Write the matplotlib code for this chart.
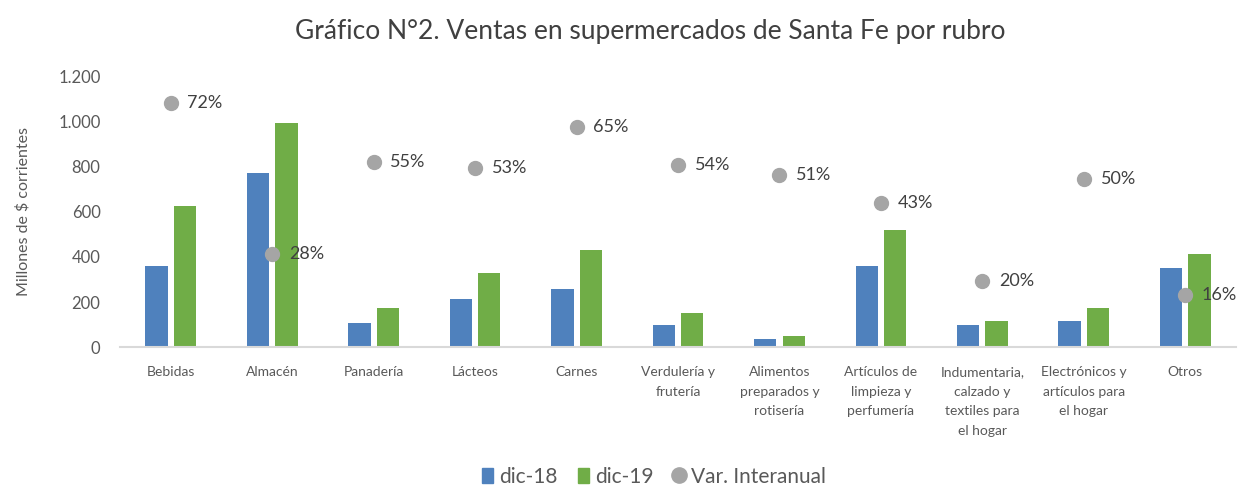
import matplotlib.pyplot as plt
import matplotlib.ticker as mticker
from matplotlib.lines import Line2D
from matplotlib.patches import Patch
import numpy as np

plt.rcParams['font.family'] = ['Lato', 'DejaVu Sans']

rubros = ['Bebidas', 'Almacén', 'Panadería', 'Lácteos', 'Carnes',
          'Verdulería y\nfrutería', 'Alimentos\npreparados y\nrotisería',
          'Artículos de\nlimpieza y\nperfumería',
          'Indumentaria,\ncalzado y\ntextiles para\nel hogar',
          'Electrónicos y\nartículos para\nel hogar', 'Otros']
dic18 = [362, 773, 107, 214, 256, 100, 34, 362, 100, 116, 353]
dic19 = [625, 996, 174, 331, 429, 149, 49, 518, 116, 173, 412]
var_interanual = [0.72, 0.28, 0.55, 0.53, 0.65, 0.54, 0.51, 0.43, 0.20, 0.50, 0.16]

azul = '#4F81BD'
verde = '#70AD47'
gris = '#A5A5A5'
texto = '#595959'

fig = plt.figure(figsize=(12.46, 4.86), dpi=100)
ax = fig.add_axes([0.0963, 0.286, 0.8957, 0.5556])

x = np.arange(len(rubros))
ancho = 0.22
ax.bar(x - 0.14, dic18, ancho, color=azul, label='dic-18', zorder=2)
ax.bar(x + 0.14, dic19, ancho, color=verde, label='dic-19', zorder=2)

ax.set_xlim(-0.5, len(rubros) - 0.5)
ax.set_ylim(0, 1200)
ax.yaxis.set_major_locator(mticker.MultipleLocator(200))
ax.yaxis.set_major_formatter(mticker.FuncFormatter(lambda v, p: f'{int(v):,}'.replace(',', '.')))
ax.tick_params(axis='y', length=0, labelsize=12, labelcolor=texto, pad=14)
ax.tick_params(axis='x', length=0, labelsize=10, labelcolor=texto, pad=14)
ax.set_xticks(x)
ax.set_xticklabels(rubros, linespacing=1.75, va='top')
for s in ['top', 'right', 'left']:
    ax.spines[s].set_visible(False)
ax.spines['bottom'].set_color('#D9D9D9')
ax.spines['bottom'].set_linewidth(1.5)
ax.set_ylabel('Millones de $ corrientes', fontsize=11.5, color=texto, labelpad=20)

ax2 = ax.twinx()
ax2.set_ylim(0.008, 0.797)
ax2.axis('off')
ax2.plot(x, var_interanual, 'o', color=gris, markersize=10, zorder=3)
for xi, v in zip(x, var_interanual):
    ax2.annotate(f'{round(v * 100)}%', (xi, v), xytext=(12, 0), textcoords='offset points',
                 va='center', ha='left', fontsize=13, color='#404040')

fig.suptitle('Gráfico N°2. Ventas en supermercados de Santa Fe por rubro',
             fontsize=19, color='#404040', x=0.522, y=0.96)

handles = [Patch(color=azul), Patch(color=verde),
           Line2D([], [], marker='o', color=gris, linestyle='none', markersize=11)]
fig.legend(handles, ['dic-18', 'dic-19', 'Var. Interanual'], loc='lower center',
           ncol=3, frameon=False, fontsize=15, labelcolor=texto,
           bbox_to_anchor=(0.525, -0.04), handlelength=0.5, handletextpad=0.3,
           columnspacing=1.0)

fig.savefig('out.png', dpi=100)
